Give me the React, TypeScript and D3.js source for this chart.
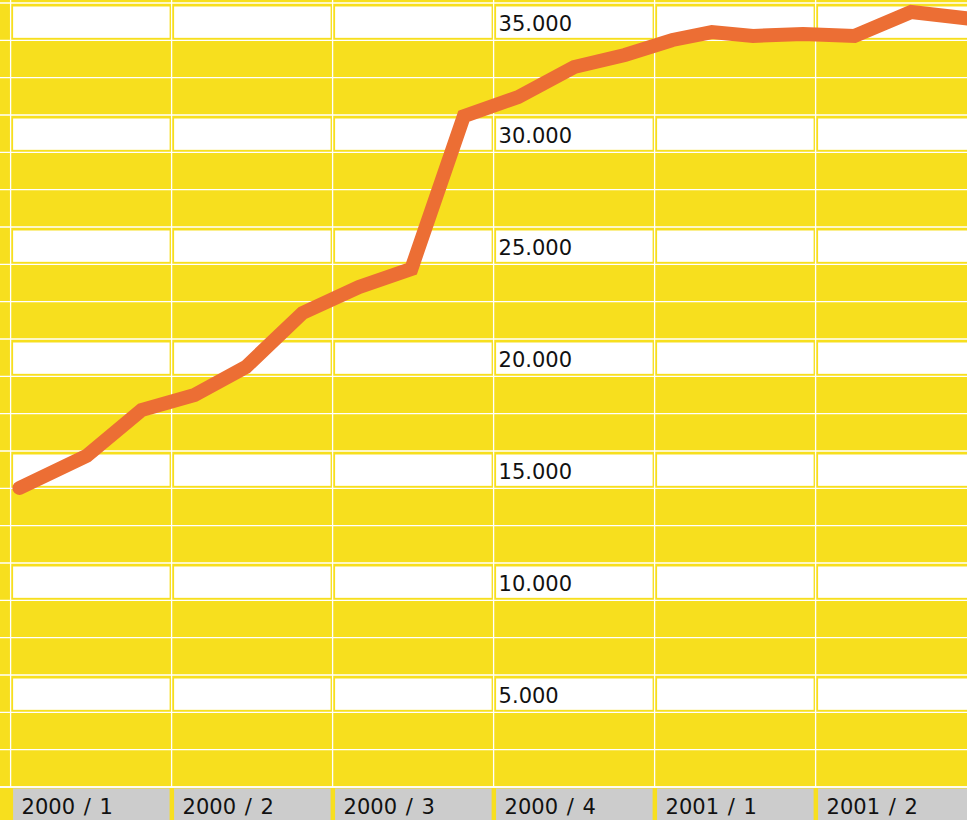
import React from "react";
import * as d3 from "d3";

const quarters = ["2000 / 1", "2000 / 2", "2000 / 3", "2000 / 4", "2001 / 1", "2001 / 2"];
const quarterStarts = ["2000-01-01", "2000-04-01", "2000-07-01", "2000-10-01", "2001-01-01", "2001-04-01", "2001-07-01"];

const dates = [
  "2000-01-06", "2000-02-13", "2000-03-15", "2000-04-14", "2000-05-13", "2000-06-14",
  "2000-07-16", "2000-08-15", "2000-09-14", "2000-10-15", "2000-11-16", "2000-12-15",
  "2001-01-11", "2001-02-02", "2001-02-25", "2001-03-25", "2001-04-23", "2001-05-25", "2001-06-27",
];
const values = [
  13350, 14780, 16830, 17500, 18750, 21160,
  22320, 23130, 29950, 30800, 32140, 32680,
  33350, 33700, 33530, 33620, 33530, 34600, 34300,
];

const yTicks = [5000, 10000, 15000, 20000, 25000, 30000, 35000];
const yMax = 35000;
const minorStep = 5000 / 3;
const labelColumn = "2000 / 4";

const W = 967;
const H = 820;
const YELLOW = "#F7DF1E";
const ORANGE = "#EC6E34";
const GRAY = "#CCCCCC";

const locale = d3.formatLocale({ decimal: ",", thousands: ".", grouping: [3], currency: ["", ""] });
const fmt = locale.format(",");

export default function App() {
  const x = d3.scaleBand<string>().domain(quarters).range([10.6, 10.6 + 6 * 161]).padding(0);
  const bw = x.bandwidth();
  const y = d3.scaleLinear().domain([0, yMax]).range([787, 3]);
  const starts = quarterStarts.map((s) => new Date(s + "T00:00:00"));

  const xPos = (ds: string) => {
    const d = new Date(ds + "T00:00:00");
    let i = 0;
    while (i < quarters.length - 1 && d >= starts[i + 1]) i++;
    const frac = (d.getTime() - starts[i].getTime()) / (starts[i + 1].getTime() - starts[i].getTime());
    return (x(quarters[i]) as number) + frac * bw;
  };

  const data = dates.map((d, i) => ({ date: d, value: values[i] }));
  const line = d3
    .line<{ date: string; value: number }>()
    .x((d) => xPos(d.date))
    .y((d) => y(d.value));

  const minorVals = d3.range(0, 22).map((k) => k * minorStep);
  const axisY = y(0);

  return (
    <svg
      width={W}
      height={H}
      style={{ position: "absolute", left: 0, top: 0, display: "block" }}
      fontFamily="'DejaVu Sans', Verdana, sans-serif"
    >
      <rect x={0} y={0} width={W} height={H} fill={YELLOW} />
      {minorVals.map((v, i) => (
        <line key={"h" + i} x1={0} x2={W} y1={y(v)} y2={y(v)} stroke="#fff" strokeWidth={1.3} />
      ))}
      {quarters.map((q) => (
        <line key={"v" + q} x1={x(q)} x2={x(q)} y1={0} y2={axisY} stroke="#fff" strokeWidth={1.3} />
      ))}
      {yTicks.map((v) =>
        quarters.map((q) => (
          <rect
            key={"b" + v + q}
            x={(x(q) as number) + 2.5}
            y={y(v) + 3.5}
            width={bw - 4.5}
            height={y(v - minorStep) - y(v) - 6}
            fill="#fff"
          />
        ))
      )}
      {yTicks.map((v) => (
        <text
          key={"t" + v}
          x={(x(labelColumn) as number) + 5}
          y={y(v) + 27.5}
          fontSize={21}
          fill="#111"
        >
          {fmt(v)}
        </text>
      ))}
      {quarters.map((q) => (
        <g key={"a" + q}>
          <rect x={(x(q) as number) + 2.5} y={axisY + 1.5} width={bw - 4.5} height={H - axisY} fill={GRAY} />
          <text x={(x(q) as number) + 11} y={814} fontSize={21} fill="#111" wordSpacing={2}>
            {q}
          </text>
        </g>
      ))}
      <line x1={0} x2={W} y1={axisY} y2={axisY} stroke="#fff" strokeWidth={1.3} />
      <path
        d={line(data) || ""}
        fill="none"
        stroke={ORANGE}
        strokeWidth={14}
        strokeLinecap="round"
        strokeLinejoin="miter"
      />
    </svg>
  );
}
